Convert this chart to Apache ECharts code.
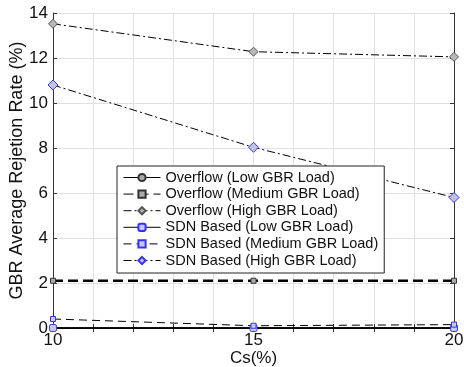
<!DOCTYPE html>
<html>
<head>
<meta charset="utf-8">
<script src="https://cdn.jsdelivr.net/npm/echarts@6/dist/echarts.min.js"></script>
<style>
  html, body { margin: 0; padding: 0; background: #fff; }
  #chart { width: 464px; height: 367px; }
</style>
</head>
<body>
<div id="chart"></div>
<script>
// x values (Cs %)
var csValues = [10, 15, 20];
var xTickLabels = [10, 15, 20];
var yTickLabels = [0, 2, 4, 6, 8, 10, 12, 14];

var overflowLow = [0, 0, 0];
var overflowMedium = [2.1, 2.1, 2.1];
var overflowHigh = [13.52, 12.28, 12.05];
var sdnLow = [0, 0, 0];
var sdnMedium = [0.4, 0.1, 0.15];
var sdnHigh = [10.8, 8.03, 5.8];

var seriesNames = [
  'Overflow (Low GBR Load)',
  'Overflow (Medium GBR Load)',
  'Overflow (High GBR Load)',
  'SDN Based (Low GBR Load)',
  'SDN Based (Medium GBR Load)',
  'SDN Based (High GBR Load)'
];

function pairs(ys) {
  return csValues.map(function (x, i) { return [x, ys[i]]; });
}

var font = 'Liberation Sans, Arial, sans-serif';
var dashDot = [8, 3, 2, 3];

function makeSeries(name, ys, line, marker) {
  return {
    name: name,
    type: 'line',
    data: pairs(ys),
    clip: false,
    symbol: marker.symbol,
    symbolSize: marker.size,
    showAllSymbol: true,
    lineStyle: line,
    itemStyle: { color: marker.fill, borderColor: marker.border, borderWidth: 1 },
    emphasis: { disabled: true },
    animation: false
  };
}

var chart = echarts.init(document.getElementById('chart'));
chart.setOption({
  backgroundColor: '#fff',
  animation: false,
  grid: { left: 53, right: 10, top: 13, bottom: 39, containLabel: false, outerBoundsMode: 'none' },
  legend: {
    orient: 'vertical',
    left: 117,
    top: 166,
    backgroundColor: '#fff',
    borderColor: '#222',
    borderWidth: 1,
    padding: [4, 6, 5, 6],
    itemWidth: 37,
    itemHeight: 9,
    itemGap: 1.6,
    lineStyle: { width: 1 },
    textStyle: { fontFamily: font, fontSize: 14.5, color: '#111' },
    data: seriesNames
  },
  xAxis: [{
    type: 'value',
    min: 10,
    max: 20,
    interval: 1,
    name: 'Cs(%)',
    nameLocation: 'middle',
    nameGap: 22,
    nameMoveOverlap: false,
    nameTextStyle: { fontFamily: font, fontSize: 17, color: '#111' },
    axisLine: { lineStyle: { color: '#333', width: 1 } },
    axisTick: { inside: true, length: 4, lineStyle: { color: '#333' } },
    axisLabel: {
      fontFamily: font, fontSize: 17, color: '#111', margin: 4,
      formatter: function (v) { return xTickLabels.indexOf(v) >= 0 ? String(v) : ''; }
    },
    splitLine: { show: true, lineStyle: { color: '#e0e0e0' } }
  }, {
    type: 'value',
    position: 'top',
    min: 10,
    max: 20,
    interval: 1,
    axisLine: { lineStyle: { color: '#333', width: 1 } },
    axisTick: { inside: true, length: 4, lineStyle: { color: '#333' } },
    axisLabel: { show: false },
    splitLine: { show: false }
  }],
  yAxis: [{
    type: 'value',
    min: 0,
    max: 14,
    interval: 2,
    name: 'GBR Average Rejetion Rate (%)',
    nameLocation: 'middle',
    nameGap: 27,
    nameMoveOverlap: false,
    nameTextStyle: { fontFamily: font, fontSize: 18, color: '#111' },
    axisLine: { show: true, lineStyle: { color: '#333', width: 1 } },
    axisTick: { show: true, inside: true, length: 4, lineStyle: { color: '#333' } },
    axisLabel: {
      fontFamily: font, fontSize: 17, color: '#111', margin: 5,
      formatter: function (v) { return yTickLabels.indexOf(v) >= 0 ? String(v) : ''; }
    },
    splitLine: { show: true, lineStyle: { color: '#e0e0e0' } }
  }, {
    type: 'value',
    position: 'right',
    min: 0,
    max: 14,
    interval: 2,
    axisLine: { show: true, lineStyle: { color: '#333', width: 1 } },
    axisTick: { show: true, inside: true, length: 4, lineStyle: { color: '#333' } },
    axisLabel: { show: false },
    splitLine: { show: false }
  }],
  series: [
    makeSeries(seriesNames[0], overflowLow,
      { color: '#000', width: 1.5, type: 'solid' },
      { symbol: 'circle', size: 6, fill: '#aaa', border: '#333' }),
    makeSeries(seriesNames[1], overflowMedium,
      { color: '#000', width: 2.5, type: [10, 5] },
      { symbol: 'rect', size: 5, fill: '#aaa', border: '#333' }),
    makeSeries(seriesNames[2], overflowHigh,
      { color: '#000', width: 1, type: dashDot },
      { symbol: 'diamond', size: 9, fill: '#b8b8b8', border: '#555' }),
    makeSeries(seriesNames[3], sdnLow,
      { color: '#000', width: 1.5, type: 'solid' },
      { symbol: 'roundRect', size: 7, fill: '#c8c8e8', border: '#3333ff' }),
    makeSeries(seriesNames[4], sdnMedium,
      { color: '#000', width: 1, type: [8, 5] },
      { symbol: 'rect', size: 5, fill: '#c8c8e8', border: '#3333ff' }),
    makeSeries(seriesNames[5], sdnHigh,
      { color: '#000', width: 1, type: dashDot },
      { symbol: 'diamond', size: 10, fill: '#c4c4d8', border: '#3333ff' })
  ]
});
</script>
</body>
</html>
